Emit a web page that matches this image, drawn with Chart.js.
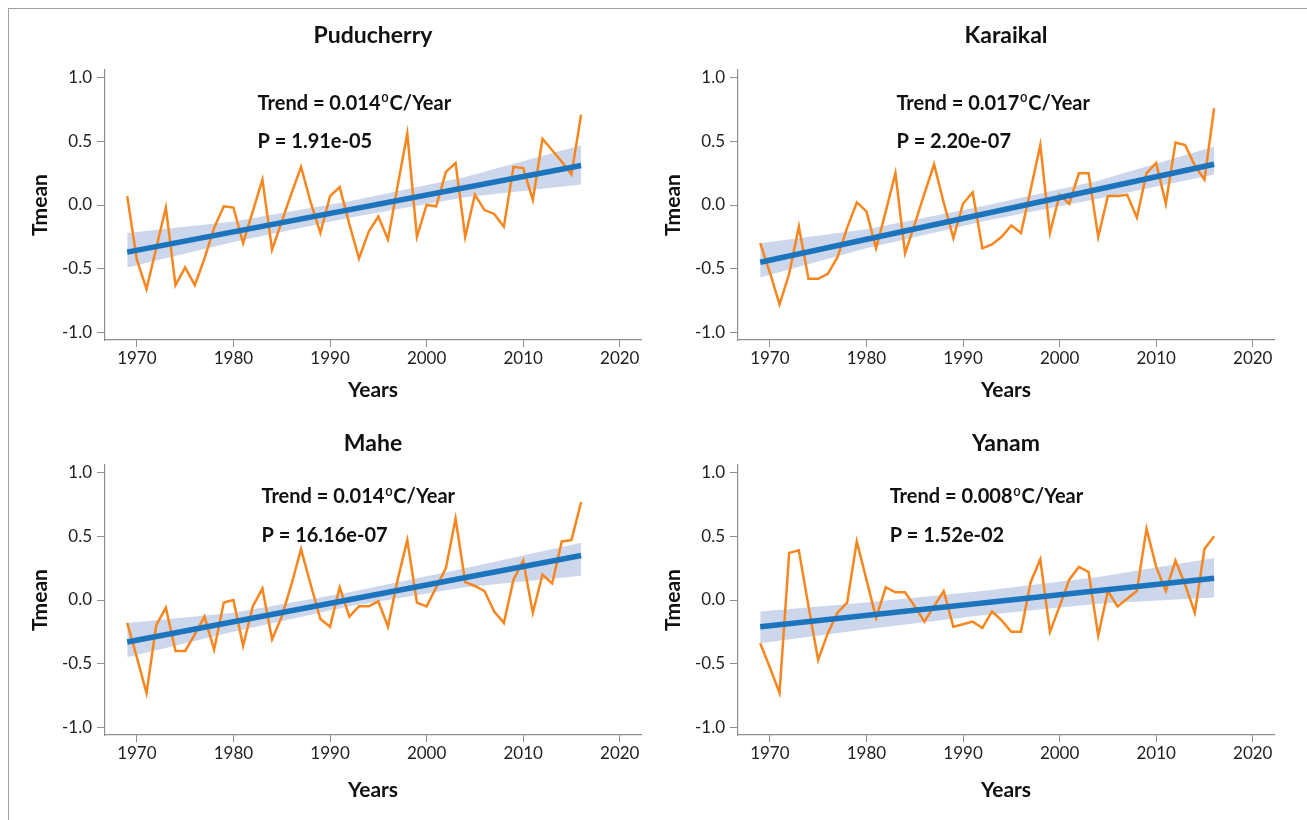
<!DOCTYPE html>
<html>
<head>
<meta charset="utf-8">
<script src="https://cdn.jsdelivr.net/npm/chart.js@4.4.0/dist/chart.umd.min.js"></script>
<style>
  body { margin: 0; background: #fff; width: 1307px; height: 820px; position: relative; overflow: hidden; }
  #frame { position: absolute; left: 8px; top: 8px; right: 0; bottom: 0; border-top: 1px solid #a0a0a0; border-left: 1px solid #a0a0a0; }
  canvas { position: absolute; }
</style>
</head>
<body>
<div id="frame"></div>
<canvas id="chartPuducherry" width="650" height="410" style="left:0;top:0"></canvas>
<canvas id="chartKaraikal" width="650" height="410" style="left:633px;top:0"></canvas>
<canvas id="chartMahe" width="650" height="410" style="left:0;top:395px"></canvas>
<canvas id="chartYanam" width="650" height="410" style="left:633px;top:395px"></canvas>
<script>
// Years of the annual series
const years = [
  1969, 1970, 1971, 1972, 1973, 1974, 1975, 1976, 1977, 1978,
  1979, 1980, 1981, 1982, 1983, 1984, 1985, 1986, 1987, 1988,
  1989, 1990, 1991, 1992, 1993, 1994, 1995, 1996, 1997, 1998,
  1999, 2000, 2001, 2002, 2003, 2004, 2005, 2006, 2007, 2008,
  2009, 2010, 2011, 2012, 2013, 2014, 2015, 2016
];

// Tmean anomalies
const tPuducherry = [
  0.07, -0.43, -0.66, -0.34, -0.02, -0.63, -0.49, -0.63, -0.42, -0.18,
  -0.01, -0.02, -0.30, -0.05, 0.20, -0.35, -0.13, 0.09, 0.30, 0.02,
  -0.22, 0.07, 0.14, -0.15, -0.42, -0.21, -0.09, -0.27, 0.15, 0.56,
  -0.25, 0.00, -0.01, 0.26, 0.33, -0.25, 0.08, -0.04, -0.07, -0.17,
  0.30, 0.29, 0.04, 0.52, 0.43, 0.34, 0.24, 0.71
];
const tKaraikal = [
  -0.30, -0.53, -0.78, -0.54, -0.17, -0.58, -0.58, -0.54, -0.41, -0.18,
  0.02, -0.05, -0.34, -0.05, 0.25, -0.38, -0.15, 0.09, 0.32, 0.02,
  -0.26, 0.01, 0.10, -0.34, -0.31, -0.25, -0.16, -0.22, 0.12, 0.47,
  -0.22, 0.08, 0.01, 0.25, 0.25, -0.25, 0.07, 0.07, 0.08, -0.10,
  0.25, 0.33, 0.01, 0.49, 0.47, 0.31, 0.20, 0.76
];
const tMahe = [
  -0.18, -0.45, -0.73, -0.20, -0.06, -0.40, -0.40, -0.27, -0.13, -0.39,
  -0.02, 0.00, -0.36, -0.05, 0.09, -0.31, -0.13, 0.12, 0.40, 0.12,
  -0.15, -0.21, 0.10, -0.13, -0.05, -0.05, -0.01, -0.21, 0.16, 0.47,
  -0.02, -0.05, 0.10, 0.25, 0.64, 0.14, 0.11, 0.07, -0.09, -0.18,
  0.16, 0.31, -0.10, 0.20, 0.13, 0.46, 0.47, 0.77
];
const tYanam = [
  -0.34, -0.53, -0.73, 0.37, 0.39, -0.05, -0.47, -0.26, -0.10, -0.02,
  0.46, 0.16, -0.14, 0.10, 0.06, 0.06, -0.05, -0.17, -0.05, 0.07,
  -0.21, -0.19, -0.17, -0.22, -0.09, -0.16, -0.25, -0.25, 0.14, 0.32,
  -0.25, -0.05, 0.16, 0.26, 0.22, -0.28, 0.07, -0.05, 0.01, 0.07,
  0.56, 0.26, 0.07, 0.31, 0.12, -0.10, 0.40, 0.50
];

// Fitted trend (start, end)
const trendYears = [1969, 2016];
const trendPuducherry = [-0.37, 0.31];
const trendKaraikal = [-0.45, 0.32];
const trendMahe = [-0.33, 0.35];
const trendYanam = [-0.21, 0.17];

// Confidence band read at a few years
const bandYears = [1969, 1980, 1992, 2004, 2016];
const lowPuducherry = [-0.49, -0.29, -0.10, 0.06, 0.16];
const highPuducherry = [-0.22, -0.13, 0.03, 0.22, 0.47];
const lowKaraikal = [-0.57, -0.34, -0.13, 0.05, 0.24];
const highKaraikal = [-0.30, -0.19, -0.01, 0.19, 0.46];
const lowMahe = [-0.45, -0.25, -0.05, 0.10, 0.19];
const highMahe = [-0.18, -0.10, 0.06, 0.25, 0.45];
const lowYanam = [-0.34, -0.23, -0.12, -0.03, 0.02];
const highYanam = [-0.09, -0.02, 0.07, 0.18, 0.33];

const xTicks = [1970, 1980, 1990, 2000, 2010, 2020];
const yTicks = [-1.0, -0.5, 0.0, 0.5, 1.0];

const FONT = "Lato, 'Open Sans', sans-serif";
const axisGrey = "#8f8f8f";

const pts = (xs, ys) => ys.map((v, i) => ({ x: xs[i], y: v }));

// Trend / P text with a superscript degree sign
const trendText = {
  id: "trendText",
  afterDraw(chart, args, opts) {
    const { ctx, scales: { x, y } } = chart;
    const left = x.getPixelForValue(opts.at[0]);
    const y1 = y.getPixelForValue(opts.at[1]);
    const y2 = y.getPixelForValue(opts.at[2]);
    ctx.save();
    ctx.fillStyle = "#111";
    ctx.textBaseline = "middle";
    ctx.textAlign = "left";
    ctx.font = "bold 20px " + FONT;
    const head = "Trend = " + opts.trend;
    ctx.fillText(head, left, y1);
    let px = left + ctx.measureText(head).width + 1;
    ctx.font = "bold 12px " + FONT;
    ctx.fillText("0", px, y1 - 5);
    px += ctx.measureText("0").width + 1;
    ctx.font = "bold 20px " + FONT;
    ctx.fillText("C/Year", px, y1);
    ctx.fillText("P = " + opts.p, left, y2);
    ctx.restore();
  },
};

function makeChart(id, name, values, trend, low, high, txt, titlePad, yearsPad) {
  return new Chart(document.getElementById(id), {
    type: "line",
    data: {
      datasets: [
        {
          data: pts(trendYears, trend),
          borderColor: "#1c75bc",
          borderWidth: 5.5,
          pointRadius: 0,
        },
        {
          data: pts(years, values),
          borderColor: "#f7861f",
          borderWidth: 2.5,
          pointRadius: 0,
        },
        {
          data: pts(bandYears, high),
          borderWidth: 0,
          pointRadius: 0,
          backgroundColor: "#cdd7ec",
          fill: "+1",
        },
        {
          data: pts(bandYears, low),
          borderWidth: 0,
          pointRadius: 0,
        },
      ],
    },
    options: {
      responsive: false,
      animation: false,
      layout: { padding: { left: 0, right: 9, top: 0, bottom: 0 } },
      plugins: {
        legend: { display: false },
        tooltip: { enabled: false },
        title: {
          display: true,
          fullSize: false,
          text: name,
          color: "#111",
          font: { family: FONT, size: 23, weight: "bold" },
          padding: titlePad,
        },
        trendText: txt,
      },
      scales: {
        x: {
          type: "linear",
          min: 1966.7,
          max: 2022.2,
          afterBuildTicks: (s) => { s.ticks = xTicks.map((v) => ({ value: v })); },
          afterFit: (s) => { s.height = 70; },
          ticks: {
            color: "#222",
            font: { family: FONT, size: 17 },
            padding: 1,
            maxRotation: 0,
            callback: (v) => String(v),
          },
          grid: { drawOnChartArea: false, tickLength: 7, color: axisGrey },
          border: { color: axisGrey, width: 1.2 },
          title: {
            display: true,
            text: "Years",
            color: "#111",
            font: { family: FONT, size: 21, weight: "bold" },
            padding: { top: 0, bottom: yearsPad },
          },
        },
        y: {
          min: -1.06,
          max: 1.06,
          afterBuildTicks: (s) => { s.ticks = yTicks.map((v) => ({ value: v })); },
          afterFit: (s) => { s.width = 105; },
          ticks: {
            color: "#222",
            font: { family: FONT, size: 17 },
            padding: 5,
            callback: (v) => v.toFixed(1),
          },
          grid: { drawOnChartArea: false, tickLength: 8, color: axisGrey },
          border: { color: axisGrey, width: 1.2 },
          title: {
            display: true,
            text: "Tmean",
            color: "#111",
            font: { family: FONT, size: 21, weight: "bold" },
            padding: { top: 27.4, bottom: 0 },
          },
        },
      },
    },
    plugins: [trendText],
  });
}

makeChart("chartPuducherry", "Puducherry", tPuducherry, trendPuducherry, lowPuducherry, highPuducherry,
  { trend: "0.014", p: "1.91e-05", at: [1982.5, 0.80, 0.50] }, { top: 22.2, bottom: 20.2 }, 7.4);
makeChart("chartKaraikal", "Karaikal", tKaraikal, trendKaraikal, lowKaraikal, highKaraikal,
  { trend: "0.017", p: "2.20e-07", at: [1983.1, 0.80, 0.50] }, { top: 22.2, bottom: 20.2 }, 7.4);
makeChart("chartMahe", "Mahe", tMahe, trendMahe, lowMahe, highMahe,
  { trend: "0.014", p: "16.16e-07", at: [1982.9, 0.81, 0.51] }, { top: 35.2, bottom: 7.2 }, 2.4);
makeChart("chartYanam", "Yanam", tYanam, trendYanam, lowYanam, highYanam,
  { trend: "0.008", p: "1.52e-02", at: [1982.4, 0.81, 0.51] }, { top: 35.2, bottom: 7.2 }, 2.4);
</script>
</body>
</html>
